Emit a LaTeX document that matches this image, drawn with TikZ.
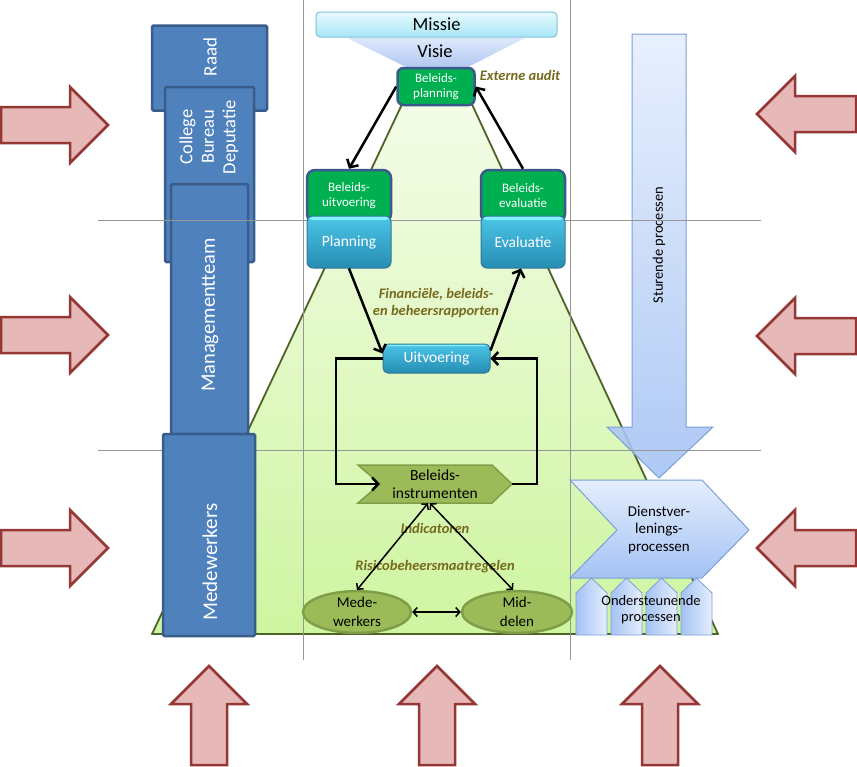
\documentclass[tikz,border=0pt]{standalone}
\usepackage{fontspec}
\setmainfont{Carlito}
\usetikzlibrary{shapes.geometric,arrows.meta,calc}
\newcommand\fsz[2]{\fontsize{#1}{#2}\selectfont}
\definecolor{boxblue}{RGB}{79,129,189}
\definecolor{boxblueline}{RGB}{56,93,138}
\definecolor{gboxfill}{RGB}{0,176,80}
\definecolor{gboxline}{RGB}{59,89,140}
\definecolor{olivefill}{RGB}{155,187,89}
\definecolor{oliveline}{RGB}{128,158,72}
\definecolor{redfill}{RGB}{230,185,184}
\definecolor{redline}{RGB}{149,55,53}
\definecolor{labelcol}{RGB}{118,106,30}
\definecolor{gridgray}{RGB}{150,150,150}
\definecolor{trapline}{RGB}{79,98,40}
\definecolor{traptop}{RGB}{244,252,232}
\definecolor{trapbot}{RGB}{206,245,160}
\definecolor{cyantop}{RGB}{75,198,232}
\definecolor{cyanbot}{RGB}{38,140,178}
\definecolor{cyanline}{RGB}{48,120,150}
\definecolor{cyanhi}{RGB}{130,240,255}
\definecolor{missietop}{RGB}{232,250,255}
\definecolor{missiebot}{RGB}{168,230,247}
\definecolor{missieline}{RGB}{130,195,220}
\definecolor{visietop}{RGB}{222,232,252}
\definecolor{visiebot}{RGB}{178,200,242}
\definecolor{ltblue}{RGB}{229,238,253}
\definecolor{mdblue}{RGB}{164,194,244}
\definecolor{blueline}{RGB}{122,160,214}
\begin{document}
\begin{tikzpicture}[x=1pt,y=-1pt,
  every node/.style={inner sep=0pt, align=center},
  leftbox/.style={rectangle, draw=boxblueline, fill=boxblue, line width=2.5pt, rounded corners=1.5pt},
  lefttxt/.style={text=white, rotate=90},
  gbox/.style={rectangle, rounded corners=8pt, fill=gboxfill, draw=gboxline, line width=2.5pt, text=white, font=\fsz{13}{15}},
  cyanbox/.style={rectangle, rounded corners=6pt, top color=cyantop, bottom color=cyanbot, draw=cyanline, line width=1pt, text=white, font=\fsz{15.5}{18},
     path picture={\fill[cyanhi] (path picture bounding box.north west) rectangle ([yshift=-#1]path picture bounding box.north east);}},
  oliveell/.style={ellipse, fill=olivefill, draw=oliveline, line width=2.5pt, font=\fsz{15}{19}},
  lbl/.style={text=labelcol, font=\fsz{14.5}{17.5}\bfseries\itshape},
  gridline/.style={draw=gridgray, line width=1pt},
  thk/.style={line width=2.5pt, -{Straight Barb[length=6pt,width=13pt]}},
  thn/.style={line width=1.5pt, {Straight Barb[length=4pt,width=9pt]}-{Straight Barb[length=4pt,width=9pt]}},
  redarrow/.pic={\draw[fill=redfill, draw=redline, line width=2.5pt, line join=miter] (0,0) -- (-38,-38) -- (-38,-18) -- (-#1,-18) -- (-#1,18) -- (-38,18) -- (-38,38) -- cycle;},
  ondpent/.style={left color=mdblue, right color=ltblue, draw=blueline, line width=0.8pt}
]
\path[use as bounding box, fill=white] (0,0) rectangle (857,766);

% big trapezoid
\path[top color=traptop, bottom color=trapbot, draw=trapline, line width=1.8pt, line join=round]
  (404,100) -- (470,100) -- (718,634) -- (152,634) -- cycle;

% Sturende processen arrow
\path[top color=ltblue, bottom color=mdblue, draw=blueline, line width=1pt, fill opacity=0.88]
  (632,34) -- (686,34) -- (686,427) -- (713,427) -- (659,478) -- (607,427) -- (632,427) -- cycle;
\node[rotate=90, font=\fsz{14.5}{17}] (stur) at (659,245) {Sturende processen};

% left boxes
\node[leftbox, minimum width=115pt, minimum height=85pt] (raad) at (209.5,68) {};
\node[lefttxt, font=\fsz{19}{22}] (raadtxt) at (210,57) {Raad};
\node[leftbox, minimum width=89pt, minimum height=175pt] (college) at (209.5,174.5) {};
\node[lefttxt, font=\fsz{18.5}{21.5}] (collegetxt) at (209,137) {College\\Bureau\\Deputatie};
\node[leftbox, minimum width=77pt, minimum height=250pt] (mt) at (209.5,309) {};
\node[lefttxt, font=\fsz{20.5}{22}] (mttxt) at (210,315) {Managementteam};

% grid lines
\draw[gridline] (98,220) -- (761,220);
\draw[gridline] (98,450) -- (761,450);
\draw[gridline] (303,0) -- (303,660);
\draw[gridline] (570,0) -- (570,660);

\node[leftbox, minimum width=92pt, minimum height=202pt] (mw) at (209,535) {};
\node[lefttxt, font=\fsz{21}{22}] (mwtxt) at (210,562) {Medewerkers};

% Visie / Missie
\path[top color=visietop, bottom color=visiebot] (347,38) -- (525,38) -- (468,67) -- (406,67) -- cycle;
\node[font=\fsz{18.5}{20}] (visie) at (435,51) {Visie};
\node[rectangle, rounded corners=4pt, top color=missietop, bottom color=missiebot, draw=missieline, line width=1pt,
      minimum width=241pt, minimum height=25pt, font=\fsz{18.5}{20}] (missie) at (436.5,24.5) {Missie};

% green boxes
\node[gbox, minimum width=77pt, minimum height=37pt, rounded corners=6pt] (bplan) at (436,86.5) {Beleids-\\planning};
\node[gbox, minimum width=84pt, minimum height=52pt] (buitv) at (349,196) {Beleids-\\uitvoering};
\node[gbox, minimum width=84pt, minimum height=52pt] (bevalc) at (523,196) {Beleids-\\evaluatie};

% cyan boxes
\node[cyanbox=4pt, minimum width=84pt, minimum height=52pt] (planning) at (349,242) {Planning};
\node[cyanbox=4pt, minimum width=84pt, minimum height=52pt] (evaluatie) at (523,242) {Evaluatie};
\node[cyanbox=2pt, rounded corners=5pt, minimum width=107pt, minimum height=29pt] (uitv) at (436.5,358.5) {Uitvoering};

% Beleidsinstrumenten chevron
\path[fill=olivefill, draw=oliveline, line width=1.5pt]
  (358,465) -- (492,465) -- (512,484) -- (492,503) -- (358,503) -- (380,484) -- cycle;
\node[minimum width=154pt, minimum height=38pt, font=\fsz{15.5}{18}] (binst) at (435,484) {Beleids-\\instrumenten};

% ellipses
\node[oliveell, minimum width=108pt, minimum height=38pt] (mede) at (357,612) {Mede-\\werkers};
\node[oliveell, minimum width=110pt, minimum height=38pt] (midd) at (517,612) {Mid-\\delen};

% Dienstverlening chevron
\path[top color=ltblue, bottom color=mdblue, draw=blueline, line width=1pt]
  (570,480) -- (702,480) -- (749,530) -- (702,578) -- (570,578) -- (617,530) -- cycle;
\node[font=\fsz{15}{17.5}] (dienst) at (659,530) {Dienstver-\\lenings-\\processen};

% Ondersteunende processen
\foreach \xl in {576,611,646,681}{
  \path[ondpent] (\xl,635) -- (\xl,593) -- (\xl+15.5,578) -- (\xl+31,593) -- (\xl+31,635) -- cycle;
}
\node[font=\fsz{14.5}{16}] (onders) at (651,610) {Ondersteunende\\processen};

% red arrows
\pic at (108,125) {redarrow=107};
\pic at (108,335) {redarrow=107};
\pic at (108,548) {redarrow=107};
\pic[rotate=180] at (757,114) {redarrow=99};
\pic[rotate=180] at (757,336) {redarrow=99};
\pic[rotate=180] at (757,548) {redarrow=99};
\pic[rotate=90] at (209,666) {redarrow=99};
\pic[rotate=90] at (437,666) {redarrow=99};
\pic[rotate=90] at (660,666) {redarrow=99};

% labels
\node[lbl] (extaudit) at (520,75) {Externe audit};
\node[lbl] (fin) at (436,303) {Financiële, beleids-\\en beheersrapporten};
\node[lbl] (indic) at (435,528) {Indicatoren};
\node[lbl] (risico) at (435,567) {Risicobeheersmaatregelen};

% connectors
\draw[thk] (bplan.west) -- (buitv.north);
\draw[thk] (bevalc.north) -- (bplan.east);
\draw[thk] (planning.south) -- ([yshift=5pt]uitv.west);
\draw[thk] ([yshift=8pt]uitv.east) -- ([xshift=-2pt]evaluatie.south);
\coordinate (lcor) at (336,358.5);
\coordinate (rcor) at (537,358.5);
\draw[thk] (uitv.west) -- (lcor) |- ([xshift=22pt]binst.west);
\draw[thk] (binst.east) -| (rcor) -- (uitv.east);
\draw[thn] ([xshift=-7pt]binst.south) -- (mede.north);
\draw[thn] ([xshift=-5pt]binst.south) -- ([xshift=-4pt]midd.north);
\draw[thn] (mede.east) -- (midd.west);
\end{tikzpicture}
\end{document}
